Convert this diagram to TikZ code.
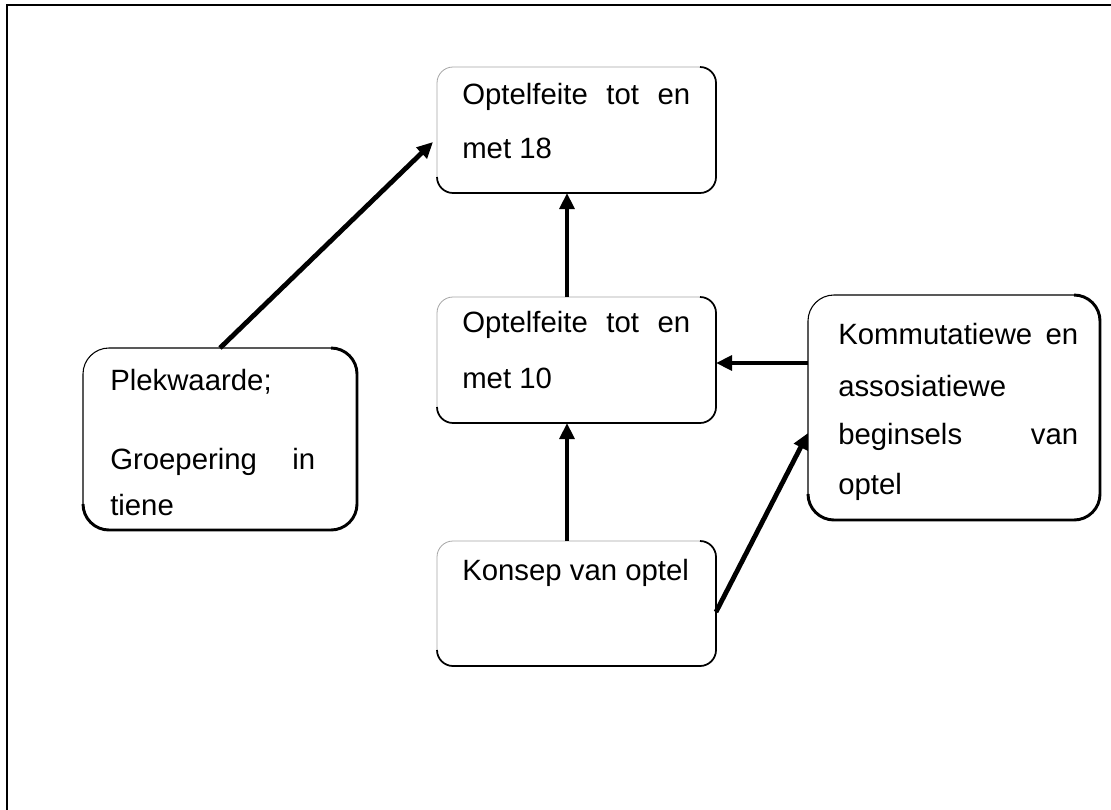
\documentclass[tikz,border=0pt]{standalone}
\usepackage{fontspec}
\setmainfont{Liberation Sans}
\usetikzlibrary{arrows.meta}
\newdimen\pxu
\pxu=0.75pt
\begin{document}
\begin{tikzpicture}[x=0.75pt,y=-0.75pt,
  font=\fontsize{22}{26}\selectfont,
  conceptbox/.style={draw=black!35, line width=0.6pt, rounded corners=16\pxu,
    inner sep=0pt, outer sep=0pt},
  bigbox/.style={draw=black, line width=0.8pt, rounded corners=26\pxu,
    inner sep=0pt, outer sep=0pt},
  darkedge/.style={line width=1.3pt, rounded corners=16\pxu},
  heavyedge/.style={line width=2.2pt, rounded corners=26\pxu},
  linetext/.style={anchor=west, inner sep=0pt},
  link/.style={line width=3.6pt, -{Triangle[length=12pt,width=11pt]}},
  frameline/.style={line width=2pt}]
\useasboundingbox (0,0) rectangle (1111,810);
\fill[white] (0,0) rectangle (1111,810);

% outer frame (top and left sides only)
\coordinate (frameBL) at (7,812);
\coordinate (frameTL) at (7,5);
\coordinate (frameTR) at (1113,5);
\draw[frameline] (frameBL) -- (frameTL) -- (frameTR);

% concept boxes
\node[conceptbox, minimum width=279\pxu, minimum height=126\pxu] (A) at (576.5,130) {};
\node[conceptbox, minimum width=279\pxu, minimum height=126\pxu] (B) at (576.5,360) {};
\node[conceptbox, minimum width=279\pxu, minimum height=125\pxu] (C) at (576.5,603.5) {};
\node[bigbox, minimum width=274\pxu, minimum height=182\pxu] (D) at (220,439) {};
\node[bigbox, minimum width=292\pxu, minimum height=225\pxu] (E) at (954,407.5) {};

% darker right and lower edges
\foreach \b in {A,B,C}
  \draw[darkedge] ([xshift=-16\pxu]\b.north east) -- (\b.north east) -- (\b.south east)
    -- (\b.south west) -- ([yshift=16\pxu]\b.south west);
\foreach \b in {D,E}
  \draw[heavyedge] ([xshift=-26\pxu]\b.north east) -- (\b.north east) -- (\b.south east)
    -- (\b.south west) -- ([yshift=26\pxu]\b.south west);

% box texts
\node[linetext] (A1) at (462,97) {\makebox[228\pxu][s]{Optelfeite tot en}};
\node[linetext] (A2) at (462,148) {met 18};
\node[linetext] (B1) at (462,325) {\makebox[228\pxu][s]{Optelfeite tot en}};
\node[linetext] (B2) at (462,378) {met 10};
\node[linetext] (C1) at (462,573) {Konsep van optel};
\node[linetext] (D1) at (110,382) {Plekwaarde;};
\node[linetext] (D2) at (110,462) {\makebox[205\pxu][s]{Groepering in}};
\node[linetext] (D3) at (110,505) {tiene};
\node[linetext] (E1) at (838,334) {\makebox[240\pxu][s]{Kommutatiewe en}};
\node[linetext] (E2) at (838,386) {assosiatiewe};
\node[linetext] (E3) at (838,437) {\makebox[240\pxu][s]{beginsels van}};
\node[linetext] (E4) at (838,487) {optel};

% connectors
\coordinate (tipA) at (433,142);
\coordinate (ebY) at (0,363);
\coordinate (ceY) at (0,612);
\coordinate (ecY) at (0,433);
\draw[link] (D.north) -- (tipA);
\draw[link] ([xshift=-9.5\pxu]B.north) -- ([xshift=-9.5\pxu]A.south);
\draw[link] ([xshift=-9.5\pxu]C.north) -- ([xshift=-9.5\pxu]B.south);
\draw[link] (E.west |- ebY) -- (B.east |- ebY);
\draw[link] (C.east |- ceY) -- (E.west |- ecY);
\end{tikzpicture}
\end{document}
